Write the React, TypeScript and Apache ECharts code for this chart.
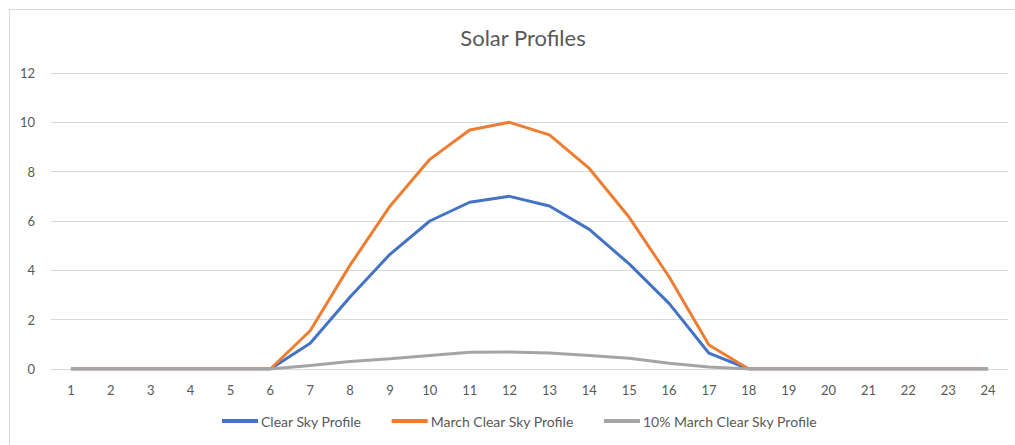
import React, { useEffect, useRef } from "react";
import * as echarts from "echarts";

const hours = ["1","2","3","4","5","6","7","8","9","10","11","12","13","14","15","16","17","18","19","20","21","22","23","24"];
const clearSky = [0,0,0,0,0,0,1.04,2.92,4.65,6.0,6.76,7.0,6.61,5.66,4.26,2.66,0.64,0,0,0,0,0,0,0];
const marchClearSky = [0,0,0,0,0,0,1.55,4.21,6.6,8.5,9.69,10.0,9.49,8.13,6.15,3.74,0.97,0,0,0,0,0,0,0];
const tenPctMarch = [0,0,0,0,0,0,0.14,0.3,0.42,0.55,0.68,0.69,0.65,0.55,0.44,0.23,0.08,0,0,0,0,0,0,0];
const yTicks = { min: 0, max: 12, interval: 2 };

const FONT = "Lato, 'Open Sans', sans-serif";

export default function App() {
  const ref = useRef<HTMLDivElement>(null);
  useEffect(() => {
    if (!ref.current) return;
    const chart = echarts.init(ref.current, undefined, { renderer: "svg" });
    const mk = (name: string, data: number[], color: string) => ({
      name,
      type: "line",
      data,
      symbol: "none",
      lineStyle: { width: 3, color },
      itemStyle: { color },
      z: 3,
    });
    chart.setOption({
      animation: false,
      backgroundColor: "#ffffff",
      textStyle: { fontFamily: FONT },
      title: {
        text: "Solar Profiles",
        left: 518,
        textAlign: "center",
        top: 21,
        textStyle: { fontFamily: FONT, fontSize: 22, fontWeight: "normal", color: "#595959" },
      },
      graphic: [
        {
          type: "rect",
          shape: { x: 9.5, y: 9.5, width: 1020, height: 450 },
          style: { fill: "none", stroke: "#D9D9D9", lineWidth: 1 },
          silent: true,
        },
      ],
      grid: { left: 51, right: 7, top: 73, bottom: 76, containLabel: false },
      legend: {
        bottom: 12,
        left: 217,
        icon: "rect",
        itemWidth: 36,
        itemHeight: 4,
        itemGap: 30,
        textStyle: { fontFamily: FONT, fontSize: 14, color: "#595959", padding: [0, 0, 0, -2] },
        data: ["Clear Sky Profile", "March Clear Sky Profile", "10% March Clear Sky Profile"],
      },
      xAxis: {
        type: "category",
        data: hours,
        boundaryGap: true,
        axisLine: { show: true, lineStyle: { color: "#D9D9D9", width: 1 } },
        axisTick: { show: false },
        axisLabel: { color: "#595959", fontSize: 13, margin: 14, fontFamily: FONT },
      },
      yAxis: {
        type: "value",
        min: yTicks.min,
        max: yTicks.max,
        interval: yTicks.interval,
        axisLine: { show: false },
        axisTick: { show: false },
        axisLabel: { color: "#595959", fontSize: 13, margin: 16, fontFamily: FONT },
        splitLine: { lineStyle: { color: "#D9D9D9", width: 1 } },
      },
      series: [
        mk("Clear Sky Profile", clearSky, "#4472C4"),
        mk("March Clear Sky Profile", marchClearSky, "#ED7D31"),
        mk("10% March Clear Sky Profile", tenPctMarch, "#A5A5A5"),
      ],
    });
    return () => chart.dispose();
  }, []);
  return (
    <div
      ref={ref}
      style={{ position: "absolute", left: 0, top: 0, width: 1015, height: 445 }}
    />
  );
}
